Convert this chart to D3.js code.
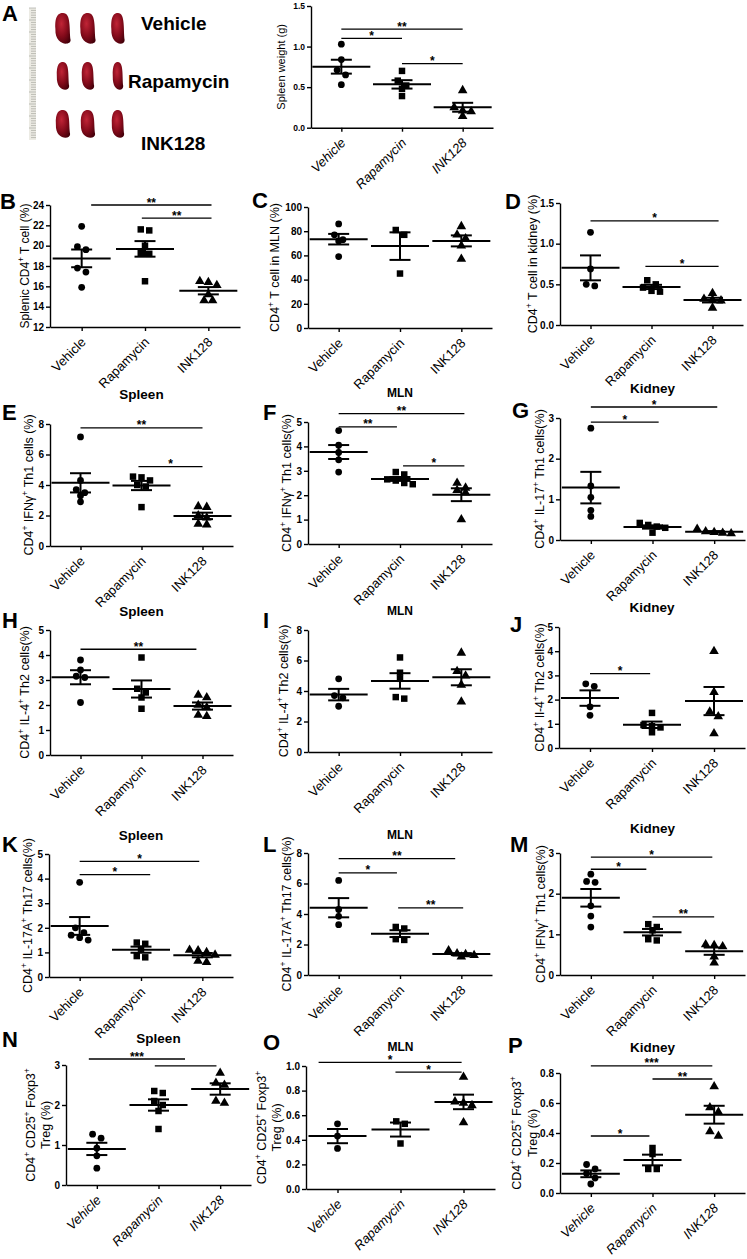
<!DOCTYPE html>
<html>
<head>
<meta charset="utf-8">
<script src="https://cdn.jsdelivr.net/npm/d3@7"></script>
<style>
  body { margin: 0; background: #fff; }
  svg { display: block; }
  text { font-family: Arial, "Liberation Sans", sans-serif; fill: #000; }
</style>
</head>
<body>
<svg id="fig" width="747" height="1259"></svg>
<script>
// groups on every x axis
const groups = ["Vehicle", "Rapamycin", "INK128"];

// values per group: [Vehicle, Rapamycin, INK128]
const spleenWeight = [[1.03, 0.84, 0.71, 0.65, 0.53], [0.70, 0.58, 0.52, 0.48, 0.39], [0.46, 0.25, 0.21, 0.20, 0.14]];
const splenicCD4 = [[21.9, 19.9, 19.6, 17.8, 17.4, 15.9], [21.6, 21.5, 20.0, 19.3, 19.2, 16.5], [16.4, 16.5, 16.1, 15.2, 14.6, 14.6]];
const mlnCD4 = [[86, 77, 73, 72, 59], [81, 77, 45], [84, 77, 74, 68, 57]];
const kidneyCD4 = [[1.14, 0.69, 0.50, 0.48], [0.55, 0.50, 0.46, 0.42, 0.41], [0.39, 0.32, 0.31, 0.30, 0.21]];
const spleenTh1 = [[7.15, 4.3, 3.7, 3.5, 3.3, 2.9], [4.55, 4.5, 4.3, 4.0, 3.9, 2.55], [2.6, 2.55, 2.0, 1.85, 1.45, 1.4]];
const mlnTh1 = [[4.65, 4.05, 3.75, 3.45, 2.95], [2.95, 2.85, 2.65, 2.6, 2.5, 2.45], [2.5, 2.3, 2.2, 2.1, 1.0]];
const kidneyIL17 = [[2.75, 1.33, 1.05, 0.73, 0.58], [0.42, 0.37, 0.33, 0.30, 0.18], [0.27, 0.21, 0.19, 0.17, 0.16]];
const spleenTh2 = [[3.8, 3.4, 3.15, 3.1, 2.1], [3.9, 2.65, 2.5, 2.3, 1.85], [2.4, 2.3, 2.0, 1.9, 1.6, 1.55]];
const mlnTh2 = [[4.8, 3.7, 3.55, 3.0], [6.2, 5.2, 4.8, 3.6, 3.5], [6.5, 5.3, 5.0, 4.4, 3.3]];
const kidneyTh2 = [[2.65, 2.55, 1.7, 1.35], [1.45, 0.95, 0.9, 0.85, 0.65], [4.0, 2.3, 1.5, 1.3, 0.6]];
const spleenTh17 = [[3.85, 2.0, 1.8, 1.7, 1.6, 1.5], [1.4, 1.35, 1.15, 0.85, 0.8], [1.1, 1.08, 1.0, 0.9, 0.65, 0.6]];
const mlnTh17 = [[6.2, 4.3, 3.85, 3.3], [3.15, 3.05, 2.35, 2.3], [1.6, 1.4, 1.35, 1.3, 1.2]];
const kidneyIFNg = [[2.48, 2.3, 2.28, 1.7, 1.45, 1.18], [1.25, 1.18, 1.1, 0.88, 0.85], [0.75, 0.73, 0.7, 0.45, 0.3]];
const spleenTreg = [[1.27, 1.17, 0.92, 0.73, 0.42], [2.35, 2.3, 2.1, 2.0, 1.85, 1.4], [2.8, 2.55, 2.5, 2.1, 2.05]];
const mlnTreg = [[0.53, 0.43, 0.33], [0.55, 0.53, 0.37], [0.91, 0.71, 0.70, 0.68, 0.54]];
const kidneyTreg = [[0.19, 0.16, 0.13, 0.10, 0.06], [0.30, 0.26, 0.16, 0.16], [0.71, 0.57, 0.54, 0.41, 0.38]];

// significance bars: [from group index, to group index, height in axis units, stars]
const sigA = [[0, 2, 1.215, "**"], [0, 1, 1.10, "*"], [1, 2, 0.79, "*"]];
const sigB = [[0.15, 2.05, 24.0, "**"], [0.95, 2.05, 22.7, "**"]];
const sigC = [];
const sigD = [[0, 2.1, 1.28, "*"], [0.9, 2.1, 0.72, "*"]];
const sigE = [[0, 2, 7.74, "**"], [0.95, 2, 5.2, "*"]];
const sigF = [[0, 2.05, 5.34, "**"], [0, 0.95, 4.8, "**"], [1.05, 2.05, 3.2, "*"]];
const sigG = [[0, 2.05, 3.27, "*"], [0, 1.1, 2.9, "*"]];
const sigH = [[0, 1.9, 4.23, "**"]];
const sigI = [];
const sigJ = [[0, 0.97, 3.07, "*"]];
const sigK = [[0, 1.95, 4.7, "*"], [0, 1.15, 4.16, "*"]];
const sigL = [[0, 1.9, 7.63, "**"], [0, 0.95, 6.7, "*"], [0.97, 2.03, 4.4, "**"]];
const sigM = [[0, 1.97, 2.9, "*"], [0, 0.9, 2.6, "*"], [1.0, 2.0, 1.43, "**"]];
const sigN = [[-0.13, 1.43, 3.15, "***"], [0.94, 1.94, 2.98, ""]];
const sigO = [[-0.3, 1.97, 1.03, "*"], [0.92, 1.97, 0.95, "*"]];
const sigP = [[0, 1.97, 0.847, "***"], [1.0, 1.97, 0.76, "**"], [0, 0.95, 0.38, "*"]];

const f1 = d3.format(".1f"), f0 = d3.format("d");

// panel placement
const panels = [
  { id: "A", data: spleenWeight, sig: sigA, label: ["Spleen weight (g)"], off: [30], lsize: 11, x0: 311, x1: 493, yb: 127.7, yt: 6, dom: [0, 1.5], step: 0.5, fmt: f1, tsize: 8.5, italic: true, letter: [2, 21] },
  { id: "B", data: splenicCD4, sig: sigB, label: ["Splenic CD4^+^ T cell (%)"], off: [25], lsize: 12, x0: 50, x1: 240, yb: 327, yt: 205, dom: [12, 24], step: 2, fmt: f0, letter: [0, 209] },
  { id: "C", data: mlnCD4, sig: sigC, label: ["CD4^+^ T cell in MLN (%)"], off: [33], x0: 308, x1: 492, yb: 328, yt: 207, dom: [0, 100], step: 20, fmt: f0, letter: [252, 208] },
  { id: "D", data: kidneyCD4, sig: sigD, label: ["CD4^+^ T cell in kidney (%)"], off: [27], x0: 560, x1: 743, yb: 325, yt: 203, dom: [0, 1.5], step: 0.5, fmt: f1, letter: [505, 209] },
  { id: "E", data: spleenTh1, sig: sigE, label: ["CD4^+^ IFNγ^+^ Th1 cells (%)"], off: [21], x0: 50, x1: 233, yb: 546, yt: 424, dom: [0, 8], step: 2, fmt: f0, title: ["Spleen", 399], letter: [2, 420] },
  { id: "F", data: mlnTh1, sig: sigF, label: ["CD4^+^ IFNγ^+^ Th1 cells(%)"], off: [21], x0: 308, x1: 492, yb: 544, yt: 422, dom: [0, 5], step: 1, fmt: f0, title: ["MLN", 397], letter: [263, 420] },
  { id: "G", data: kidneyIL17, sig: sigG, label: ["CD4^+^ IL-17^+^ Th1 cells(%)"], off: [20], x0: 560, x1: 745, yb: 540, yt: 418, dom: [0, 3], step: 1, fmt: f0, title: ["Kidney", 393], letter: [512, 418] },
  { id: "H", data: spleenTh2, sig: sigH, label: ["CD4^+^ IL-4^+^ Th2 cells(%)"], off: [25], x0: 50, x1: 233, yb: 755, yt: 630, dom: [0, 5], step: 1, fmt: f0, title: ["Spleen", 616], letter: [2, 628] },
  { id: "I", data: mlnTh2, sig: sigI, label: ["CD4^+^ IL-4^+^ Th2 cells(%)"], off: [24], x0: 308, x1: 492, yb: 752, yt: 630, dom: [0, 8], step: 2, fmt: f0, title: ["MLN", 615], letter: [263, 628] },
  { id: "J", data: kidneyTh2, sig: sigJ, label: ["CD4^+^ Il-4^+^ Th2 cells(%)"], off: [19], x0: 559, x1: 745, yb: 748, yt: 627, dom: [0, 5], step: 1, fmt: f0, title: ["Kidney", 612], letter: [510, 632] },
  { id: "K", data: spleenTh17, sig: sigK, label: ["CD4^+^ IL-17A^+^ Th17 cells(%)"], off: [21], x0: 49, x1: 233, yb: 977, yt: 854, dom: [0, 5], step: 1, fmt: f0, title: ["Spleen", 840], letter: [2, 852] },
  { id: "L", data: mlnTh17, sig: sigL, label: ["CD4^+^ IL-17A^+^ Th17 cells(%)"], off: [21], x0: 308, x1: 492, yb: 975, yt: 853, dom: [0, 8], step: 2, fmt: f0, title: ["MLN", 839], letter: [263, 852] },
  { id: "M", data: kidneyIFNg, sig: sigM, label: ["CD4^+^ IFNγ^+^ Th1 cells(%)"], off: [19], x0: 560, x1: 745, yb: 975, yt: 853, dom: [0, 3], step: 1, fmt: f0, title: ["Kidney", 833], letter: [510, 852] },
  { id: "N", data: spleenTreg, sig: sigN, label: ["CD4^+^ CD25^+^ Foxp3^+^", "Treg (%)"], off: [35, 20], x0: 66, x1: 251, yb: 1185, yt: 1065, dom: [0, 3], step: 1, fmt: f0, italic: true, title: ["Spleen", 1043], letter: [2, 1047] },
  { id: "O", data: mlnTreg, sig: sigO, label: ["CD4^+^ CD25^+^ Foxp3^+^", "Treg (%)"], off: [44, 29], x0: 306, x1: 495, yb: 1189, yt: 1066, dom: [0, 1.0], step: 0.2, fmt: f1, italic: true, title: ["MLN", 1051], letter: [263, 1050] },
  { id: "P", data: kidneyTreg, sig: sigP, label: ["CD4^+^ CD25^+^ Foxp3^+^", "Treg (%)"], off: [43, 27], x0: 560, x1: 745, yb: 1193, yt: 1073, dom: [0, 0.8], step: 0.2, fmt: f1, italic: true, title: ["Kidney", 1052], letter: [508, 1053] }
];

const svg = d3.select("#fig");
const symbols = [d3.symbolCircle, d3.symbolSquare, d3.symbolTriangle];
const symSize = [36, 42, 40];

// text with ^sup^ markup
function richText(sel, str, size) {
  let up = false;
  str.split("^").forEach((s, i) => {
    if (!s) return;
    const t = sel.append("tspan").text(s);
    if (i % 2) {
      t.attr("font-size", size * 0.68).attr("dy", -size * 0.42);
      up = true;
    } else {
      t.attr("font-size", size);
      if (up) t.attr("dy", size * 0.42);
      up = false;
    }
  });
}

// spread points that sit on the same level, GraphPad style
function dodge(vals, y) {
  const order = vals.map((v, i) => i).sort((a, b) => vals[b] - vals[a]);
  const rows = [];
  order.forEach(i => {
    const row = rows[rows.length - 1];
    if (row && Math.abs(y(vals[row[0]]) - y(vals[i])) < 5.5) row.push(i);
    else rows.push([i]);
  });
  const off = vals.map(() => 0);
  rows.forEach(r => r.forEach((i, k) => off[i] = (k - (r.length - 1) / 2) * 8.5));
  return off;
}

function drawPanel(p) {
  const g = svg.append("g");
  const x = d3.scalePoint().domain(groups).range([p.x0, p.x1]).padding(0.5);
  const y = d3.scaleLinear().domain(p.dom).range([p.yb, p.yt]);
  const stepX = x.step();
  const xi = i => x(groups[0]) + i * stepX;
  const ticks = d3.range(p.dom[0], p.dom[1] + p.step / 2, p.step);

  const ya = g.append("g").attr("transform", `translate(${p.x0},0)`)
    .call(d3.axisLeft(y).tickValues(ticks).tickFormat(p.fmt).tickSize(4).tickSizeOuter(0).tickPadding(2));
  const xa = g.append("g").attr("transform", `translate(0,${p.yb})`)
    .call(d3.axisBottom(x).tickSize(4).tickSizeOuter(0).tickFormat(""));
  [ya, xa].forEach(a => {
    a.attr("font-family", null).attr("font-size", p.tsize || 10).attr("font-weight", "bold");
    a.selectAll("path, line").attr("stroke-width", 1.4);
  });

  // x labels
  g.selectAll(".xl").data(groups).join("text")
    .attr("text-anchor", "end")
    .attr("font-size", 13)
    .attr("font-style", p.italic ? "italic" : "normal")
    .attr("transform", d => `translate(${x(d) + 5},${p.yb + 16}) rotate(-45)`)
    .text(d => d);

  // y label(s)
  const cy = (p.yb + p.yt) / 2;
  p.label.forEach((lab, k) => {
    const size = p.lsize || 12.5;
    const t = g.append("text").attr("text-anchor", "middle")
      .attr("transform", `translate(${p.x0 - p.off[k] + size * 0.35},${cy}) rotate(-90)`);
    richText(t, lab, size);
  });

  // points
  p.data.forEach((vals, gi) => {
    const off = dodge(vals, y);
    g.selectAll(null).data(vals).join("path")
      .attr("d", d3.symbol(symbols[gi], symSize[gi]))
      .attr("transform", (d, i) => `translate(${x(groups[gi]) + off[i]},${y(d)})`)
      .attr("fill", "#000");
  });

  // mean and SEM
  p.data.forEach((vals, gi) => {
    const m = d3.mean(vals), se = d3.deviation(vals) / Math.sqrt(vals.length);
    const cx = x(groups[gi]);
    const lines = [
      [cx - 29, y(m), cx + 29, y(m)],
      [cx - 10.5, y(m + se), cx + 10.5, y(m + se)],
      [cx - 10.5, y(m - se), cx + 10.5, y(m - se)],
      [cx, y(m + se), cx, y(m - se)]
    ];
    g.selectAll(null).data(lines).join("line")
      .attr("x1", d => d[0]).attr("y1", d => d[1]).attr("x2", d => d[2]).attr("y2", d => d[3])
      .attr("stroke", "#000").attr("stroke-width", 2);
  });

  // significance bars
  p.sig.forEach(([a, b, v, s]) => {
    g.append("line").attr("x1", xi(a)).attr("x2", xi(b)).attr("y1", y(v)).attr("y2", y(v))
      .attr("stroke", "#000").attr("stroke-width", 1.3);
    if (s) g.append("text").attr("x", (xi(a) + xi(b)) / 2).attr("y", y(v) + 1.5)
      .attr("text-anchor", "middle").attr("font-size", 12).attr("font-weight", "bold").text(s);
  });

  if (p.title) {
    g.append("text").attr("x", x(groups[1])).attr("y", p.title[1])
      .attr("text-anchor", "middle").attr("font-weight", "bold")
      .attr("font-size", p.title[0] === "MLN" ? 12 : 13.5).text(p.title[0]);
  }
  g.append("text").attr("x", p.letter[0]).attr("y", p.letter[1])
    .attr("font-size", 22).attr("font-weight", "bold").text(p.id);
}

// photo of the spleens in panel A (ruler + organs)
function drawPhoto() {
  const g = svg.append("g");
  const grad = svg.append("defs").append("radialGradient").attr("id", "organ")
    .attr("cx", "40%").attr("cy", "35%").attr("r", "75%");
  grad.append("stop").attr("offset", "0%").attr("stop-color", "#c02436");
  grad.append("stop").attr("offset", "55%").attr("stop-color", "#850b1b");
  grad.append("stop").attr("offset", "100%").attr("stop-color", "#45000a");

  g.append("rect").attr("x", 29).attr("y", 8).attr("width", 7).attr("height", 132).attr("fill", "#ecebe4");
  g.selectAll(".mm").data(d3.range(0, 132, 2.4)).join("line")
    .attr("x1", (d, i) => i % 5 === 0 ? 29 : 31).attr("x2", 36)
    .attr("y1", d => 8 + d).attr("y2", d => 8 + d)
    .attr("stroke", "#9a9a94").attr("stroke-width", 0.6);

  const cols = [63, 88, 118];
  const rows = [[13, 45, 8], [62, 91, 6.5], [110, 139, 7.5]];
  rows.forEach(([t, b, w]) => cols.forEach((c, k) => {
    const ww = k === 2 ? w - 1 : w, mid = (t + b) / 2;
    // elongated organ, a little narrower in the middle
    g.append("path")
      .attr("d", `M${c},${t} C${c + ww * 1.05},${t} ${c + ww * 0.75},${mid} ${c + ww * 0.95},${b - 5}` +
        ` C${c + ww},${b + 1} ${c - ww * 1.05},${b + 1} ${c - ww * 0.95},${mid}` +
        ` C${c - ww * 1.05},${t + 2} ${c - ww * 0.5},${t} ${c},${t} Z`)
      .attr("fill", "url(#organ)");
  }));

  const names = [["Vehicle", 141, 30], ["Rapamycin", 128, 88], ["INK128", 141, 150]];
  g.selectAll(".nm").data(names).join("text")
    .attr("x", d => d[1]).attr("y", d => d[2])
    .attr("font-size", 19).attr("font-weight", "bold").text(d => d[0]);
}

drawPhoto();
panels.forEach(drawPanel);
</script>
</body>
</html>
